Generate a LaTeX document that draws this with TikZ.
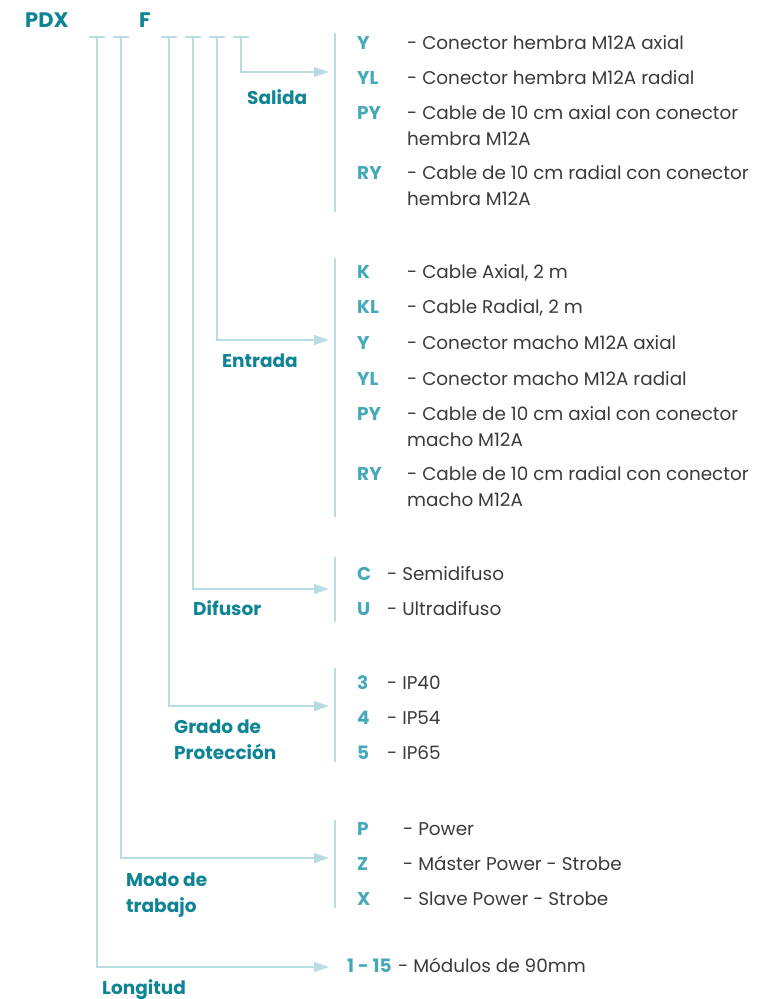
\documentclass[tikz,border=0pt]{standalone}
\usepackage{fontspec}
\setmainfont{Poppins}
\usetikzlibrary{arrows.meta,positioning}
\definecolor{darkteal}{HTML}{0E8494}
\definecolor{codeteal}{HTML}{45A9BA}
\definecolor{lineblue}{HTML}{B7DDE3}
\definecolor{txtgray}{HTML}{3A3A3A}

\begin{document}
\begin{tikzpicture}[x=1pt, y=-1pt,
    every node/.style={inner sep=0pt, anchor=base west, font=\fontsize{18.4}{26}\selectfont},
    title/.style={text=darkteal, font=\fontsize{18.5}{26}\selectfont\bfseries, align=left},
    code/.style={text=codeteal, font=\fontsize{18.5}{26}\selectfont\bfseries},
    desc/.style={text=txtgray, align=left},
    lead/.style={draw=lineblue, line width=1.4pt, -{Triangle[length=15pt,width=10pt]}},
    bar/.style={draw=lineblue, line width=1.4pt}]

    \useasboundingbox (0,0) rectangle (756,999);

    % header
    \node[title, font=\fontsize{21}{26}\selectfont\bfseries] (pdx) at (25,27) {PDX};
    \node[title, font=\fontsize{21}{26}\selectfont\bfseries] (f) at (139,27) {F};

    % ticks and leads
    \foreach \x/\n in {97/tL, 121/tM, 169/tG, 193/tD, 217/tE, 241/tS} {
        \coordinate (\n) at (\x,37);
        \draw[bar] (\n) ++(-8,0) -- ++(16,0);
    }
    \coordinate (aS) at (329,72);
    \coordinate (aE) at (329,340);
    \coordinate (aD) at (329,589);
    \coordinate (aG) at (329,706);
    \coordinate (aM) at (329,858);
    \coordinate (aL) at (329,967);
    \draw[lead] (tS) |- (aS);
    \draw[lead] (tE) |- (aE);
    \draw[lead] (tD) |- (aD);
    \draw[lead] (tG) |- (aG);
    \draw[lead] (tM) |- (aM);
    \draw[lead] (tL) |- (aL);

    % bars
    \draw[bar] (335,33) -- (335,212);
    \draw[bar] (335,258) -- (335,517);
    \draw[bar] (335,557) -- (335,622);
    \draw[bar] (335,668) -- (335,762);
    \draw[bar] (335,820) -- (335,908);

    % group labels (two-line nodes sit on their last baseline)
    \node[title] (lSal) at (247,104) {Salida};
    \node[title] (lEnt) at (222,367) {Entrada};
    \node[title] (lDif) at (193,615) {Difusor};
    \node[title] (lGra) at (174,759) {Grado de\\Protección};
    \node[title] (lMod) at (126,912) {Modo de\\trabajo};
    \node[title] (lLon) at (102,994) {Longitud};

    % Salida
    \node[code] (sY)  at (357,49)  {Y};
    \node[code] (sYL) at (357,84)  {YL};
    \node[code] (sPY) at (357,119) {PY};
    \node[code] (sRY) at (357,179) {RY};
    \node[desc] (sYd)  at (407,49)  {- Conector hembra M12A axial};
    \node[desc] (sYLd) at (407,84)  {- Conector hembra M12A radial};
    \node[desc] (sPYd) at (407,145) {- Cable de 10 cm axial con conector\\hembra M12A};
    \node[desc] (sRYd) at (407,205) {- Cable de 10 cm radial con conector\\hembra M12A};

    % Entrada
    \node[code] (eK)  at (357,278) {K};
    \node[code] (eKL) at (357,313) {KL};
    \node[code] (eY)  at (357,349) {Y};
    \node[code] (eYL) at (357,385) {YL};
    \node[code] (ePY) at (357,420) {PY};
    \node[code] (eRY) at (357,480) {RY};
    \node[desc] (eKd)  at (407,278) {- Cable Axial, 2 m};
    \node[desc] (eKLd) at (407,313) {- Cable Radial, 2 m};
    \node[desc] (eYd)  at (407,349) {- Conector macho M12A axial};
    \node[desc] (eYLd) at (407,385) {- Conector macho M12A radial};
    \node[desc] (ePYd) at (407,446) {- Cable de 10 cm axial con conector\\macho M12A};
    \node[desc] (eRYd) at (407,506) {- Cable de 10 cm radial con conector\\macho M12A};

    % Difusor
    \node[code] (dC) at (357,580) {C};
    \node[code] (dU) at (357,615) {U};
    \node[desc] (dCd) at (387,580) {- Semidifuso};
    \node[desc] (dUd) at (387,615) {- Ultradifuso};

    % Grado de proteccion
    \node[code] (g3) at (357,689) {3};
    \node[code] (g4) at (357,724) {4};
    \node[code] (g5) at (357,759) {5};
    \node[desc] (g3d) at (387,689) {- IP40};
    \node[desc] (g4d) at (387,724) {- IP54};
    \node[desc] (g5d) at (387,759) {- IP65};

    % Modo de trabajo
    \node[code] (mP) at (357,835) {P};
    \node[code] (mZ) at (357,870) {Z};
    \node[code] (mX) at (357,905) {X};
    \node[desc] (mPd) at (403,835) {- Power};
    \node[desc] (mZd) at (403,870) {- Máster Power - Strobe};
    \node[desc] (mXd) at (403,905) {- Slave Power - Strobe};

    % Longitud
    \node[code] (l115) at (347,972) {1 - 15};
    \node[desc] (l115d) at (398,972) {- Módulos de 90mm};
\end{tikzpicture}
\end{document}
